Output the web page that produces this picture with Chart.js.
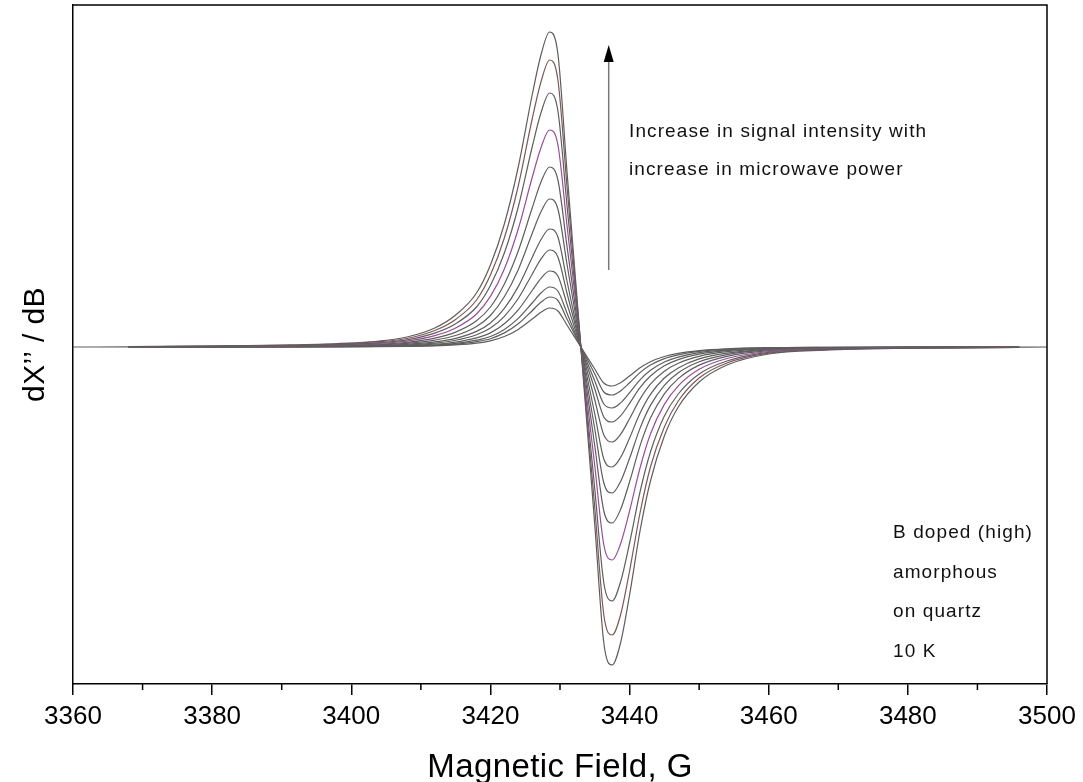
<!DOCTYPE html>
<html><head><meta charset="utf-8">
<script src="https://cdn.jsdelivr.net/npm/chart.js@4.4.0/dist/chart.umd.min.js"></script>
<style>html,body{margin:0;padding:0;background:#fff;}#wrap{width:1083px;height:782px;}</style>
</head><body><div id="wrap"><canvas id="c" width="1083" height="782"></canvas></div>
<script>
// Magnetic field sample positions (G)
const fields = [3360, 3368, 3380, 3390, 3398, 3404, 3408, 3412, 3415, 3418, 3420, 3422, 3424, 3426, 3427.3,
  3428.5, 3429.7, 3431, 3433, 3435, 3436.3, 3437.5, 3438.7, 3440, 3441.5, 3443, 3445, 3447, 3450, 3454,
  3460, 3468, 3480, 3496, 3500];

// dX''/dB (arbitrary units), one array per microwave power, largest first
const curve01 = [null, 0.5, 0.9, 1.9, 3.4, 6, 10, 19, 32, 54, 82, 123, 180, 252, 293, 315, 293, 176, 0, -178, -296, -318, -296, -248, -184, -134, -89, -60, -35, -18, -7, -3.1, -1.2, -0.5, null];
const curve02 = [null, 0.4, 0.8, 1.6, 3.0, 5.3, 8.5, 16.5, 27.6, 47, 72, 109, 161, 228, 266, 287, 267, 161, 0, -161, -268, -288, -268, -224, -166, -120, -80, -54, -31, -16, -6.2, -2.8, -1.1, -0.4, null];
const curve03 = [null, 0.35, 0.7, 1.4, 2.5, 4.4, 7.2, 13.9, 23.3, 40, 61.5, 94, 140, 200, 235, 254, 236, 142, 0, -142, -236, -254, -235, -196, -145, -105, -69, -47, -27, -14, -5.4, -2.4, -1.0, -0.36, null];
const curve04 = [null, 0.3, 0.55, 1.1, 2.1, 3.6, 5.9, 11.3, 19, 33, 50.6, 78, 118, 169.5, 200, 217, 202, 122, 0, -119, -198, -213, -197, -164, -121, -87, -57.4, -38.8, -22.3, -11.5, -4.5, -2.0, -0.8, -0.3, null];
const curve05 = [null, 0.2, 0.4, 0.9, 1.6, 2.9, 4.6, 8.9, 14.9, 26.2, 40, 63, 96, 139, 165.5, 180, 167, 101, 0, -99, -164, -176, -162.6, -134.8, -98.9, -71.1, -46.8, -31.6, -18.1, -9.3, -3.6, -1.6, -0.63, -0.25, null];
const curve06 = [null, 0.18, 0.34, 0.7, 1.3, 2.2, 3.6, 6.9, 11.5, 20.6, 31.5, 50.2, 77.3, 113.5, 135.7, 148, 138, 83, 0, -82, -136, -146, -134.7, -111.3, -81.4, -58.4, -38.3, -25.8, -14.8, -7.6, -2.9, -1.3, -0.5, -0.2, null];
const curve07 = [null, 0.13, 0.25, 0.5, 0.96, 1.7, 2.7, 5.1, 8.7, 15.6, 24.0, 38.7, 60.4, 89.6, 107.8, 118, 110, 66, 0, -67, -112, -120, -110.5, -91.0, -66.3, -47.4, -31.0, -20.9, -11.9, -6.1, -2.4, -1.05, -0.42, -0.16, null];
const curve08 = [null, 0.1, 0.19, 0.39, 0.74, 1.3, 2.0, 3.9, 6.75, 12.2, 18.9, 30.7, 48.5, 72.8, 88.3, 97, 90, 54, 0, -53, -88, -95, -87.4, -71.7, -52.1, -37.1, -24.2, -16.2, -9.3, -4.7, -1.8, -0.82, -0.32, -0.12, null];
const curve09 = [null, 0.08, 0.14, 0.28, 0.54, 0.93, 1.5, 2.8, 4.96, 9.1, 14.1, 23.2, 37.1, 56.5, 68.9, 76, 71, 43, 0, -42, -70, -75, -68.9, -56.3, -40.7, -29.0, -18.8, -12.6, -7.2, -3.65, -1.4, -0.63, -0.25, -0.1, null];
const curve10 = [null, 0.05, 0.1, 0.2, 0.39, 0.67, 1.1, 2.0, 3.6, 6.8, 10.5, 17.6, 28.6, 44.0, 54.2, 60, 56, 34, 0, -34, -57, -61, -55.9, -45.6, -32.8, -23.3, -15.0, -10.1, -5.7, -2.9, -1.1, -0.5, -0.2, -0.08, null];
const curve11 = [null, 0.04, 0.08, 0.15, 0.3, 0.53, 0.87, 1.5, 2.9, 5.4, 8.3, 14.1, 23.2, 36.3, 45, 50, 46.5, 28, 0, -27, -45, -48, -43.9, -35.7, -25.6, -18.1, -11.6, -7.8, -4.4, -2.2, -0.86, -0.39, -0.15, -0.06, null];
const curve12 = [0, 0.03, 0.05, 0.11, 0.22, 0.39, 0.64, 1.13, 2.1, 3.9, 6.2, 10.5, 17.6, 27.9, 34.9, 39, 36, 22, 0, -22, -36, -39, -35.7, -29.0, -20.8, -14.7, -9.5, -6.3, -3.6, -1.8, -0.7, -0.32, -0.12, -0.05, 0];

const xMajorTicks = [3360, 3380, 3400, 3420, 3440, 3460, 3480, 3500];
const xMinorTicks = [3370, 3390, 3410, 3430, 3450, 3470, 3490];
const xTitle = 'Magnetic Field, G';
const yTitle = 'dX\u2019\u2019 / dB';
const noteTop = ['Increase in signal intensity with', 'increase in microwave power'];
const noteBottom = ['B doped (high)', 'amorphous', 'on quartz', '10 K'];

const curves = [curve01, curve02, curve03, curve04, curve05, curve06, curve07, curve08, curve09, curve10, curve11, curve12];
const colors = ['#5e5e5e', '#7d5858', '#5e5e5e', '#9a4c9a', '#5e5e5e', '#5e5e5e', '#5e5e5e', '#5e5e5e', '#5e5e5e', '#5e5e5e', '#5e5e5e', '#5e5e5e'];

const FONT = '"Liberation Sans", Arial, sans-serif';

const decor = {
  id: 'decor',
  afterDraw(chart) {
    const ctx = chart.ctx, a = chart.chartArea, xs = chart.scales.x, ys = chart.scales.y;
    ctx.save();
    ctx.strokeStyle = '#000'; ctx.lineWidth = 1.5;
    ctx.beginPath();
    ctx.moveTo(a.left, a.top); ctx.lineTo(a.right, a.top); ctx.lineTo(a.right, a.bottom);
    xMinorTicks.forEach(v => { const p = xs.getPixelForValue(v); ctx.moveTo(p, a.bottom); ctx.lineTo(p, a.bottom + 6); });
    ctx.stroke();
    // axis titles
    ctx.fillStyle = '#000';
    ctx.font = '33px ' + FONT; ctx.textAlign = 'center'; ctx.textBaseline = 'alphabetic';
    try { ctx.letterSpacing = '0.4px'; } catch (e) {}
    ctx.fillText(xTitle, (a.left + a.right) / 2, 777);
    ctx.save(); ctx.translate(44, (a.top + a.bottom) / 2); ctx.rotate(-Math.PI / 2);
    ctx.font = '30px ' + FONT; ctx.fillText(yTitle, 0, 0); ctx.restore();
    // arrow
    const ax = xs.getPixelForValue(3437);
    const yTop = ys.getPixelForValue(302), yBot = ys.getPixelForValue(77);
    ctx.strokeStyle = '#777'; ctx.lineWidth = 1.5;
    ctx.beginPath(); ctx.moveTo(ax, yBot); ctx.lineTo(ax, yTop + 10); ctx.stroke();
    ctx.fillStyle = '#000';
    ctx.beginPath(); ctx.moveTo(ax, yTop); ctx.lineTo(ax - 5, yTop + 17); ctx.lineTo(ax + 5, yTop + 17); ctx.closePath(); ctx.fill();
    // notes
    ctx.textAlign = 'left'; ctx.font = '19px ' + FONT;
    try { ctx.letterSpacing = '1.1px'; } catch (e) {}
    ctx.fillStyle = '#111';
    ctx.fillText(noteTop[0], 629, 137);
    ctx.fillText(noteTop[1], 629, 175);
    noteBottom.forEach((t, i) => ctx.fillText(t, 893, 538 + i * 39.5));
    ctx.restore();
  }
};

new Chart(document.getElementById('c'), {
  type: 'line',
  data: {
    datasets: curves.map((c, i) => ({
      label: 'P' + (i + 1),
      data: fields.map((f, j) => ({ x: f, y: c[j] })),
      borderColor: colors[i],
      borderWidth: 1.2,
      pointRadius: 0,
      fill: false,
      cubicInterpolationMode: 'monotone',
      spanGaps: false
    }))
  },
  options: {
    responsive: false,
    animation: false,
    devicePixelRatio: 1,
    layout: { padding: { left: 0, top: 5, right: 36, bottom: 0 } },
    plugins: { legend: { display: false }, tooltip: { enabled: false }, title: { display: false } },
    scales: {
      x: {
        type: 'linear', min: 3360, max: 3500,
        afterBuildTicks: s => { s.ticks = xMajorTicks.map(v => ({ value: v })); },
        afterFit: s => { s.height = 98; },
        ticks: { font: { family: FONT, size: 26 }, color: '#000', padding: 6, maxRotation: 0, autoSkip: false,
                 callback: v => String(v) },
        grid: { drawOnChartArea: false, drawTicks: true, tickLength: 11, color: '#000', lineWidth: 1.5 },
        border: { display: true, color: '#000', width: 1.5 }
      },
      y: {
        type: 'linear', min: -337, max: 342,
        afterFit: s => { s.width = 73; },
        ticks: { display: false },
        grid: { display: false },
        border: { display: true, color: '#000', width: 1.5 }
      }
    }
  },
  plugins: [decor]
});
</script></body></html>
